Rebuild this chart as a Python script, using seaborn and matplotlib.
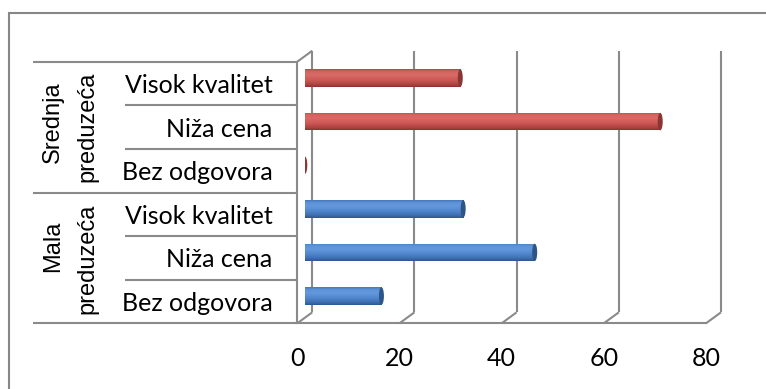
import numpy as np
import pandas as pd
import matplotlib
matplotlib.use("Agg")
import matplotlib.pyplot as plt
import seaborn as sns
from matplotlib.patches import Ellipse, Rectangle
from matplotlib.colors import to_rgb

# ---- data -------------------------------------------------------------
groups = ["Srednja preduzeća", "Mala preduzeća"]
answers = ["Visok kvalitet", "Niža cena", "Bez odgovora"]
srednja_values = [30.43, 69.57, 0.0]
mala_values = [31.0, 45.0, 15.0]
x_ticks = [0, 20, 40, 60, 80]

df = pd.DataFrame({
    "row": [f"{g}|{a}" for g in groups for a in answers],
    "answer": answers * 2,
    "group": np.repeat(groups, len(answers)),
    "value": srednja_values + mala_values,
})

# ---- style ------------------------------------------------------------
sns.set_style("white")
plt.rcParams["font.family"] = ["Lato", "DejaVu Sans"]
plt.rcParams["text.color"] = "black"
plt.rcParams["xtick.color"] = "black"
plt.rcParams["ytick.color"] = "black"
GRID = "#8a8a8a"
palette = {groups[0]: "#C0504D", groups[1]: "#4F81BD"}
shade = {
    groups[0]: ["#B04A47", "#D4625E", "#D86C68", "#CD5754", "#AE4441", "#8C3331"],
    groups[1]: ["#4677BA", "#5B90D5", "#6499DD", "#4F86CC", "#3E6DAE", "#2D5790"],
}
cap_color = {groups[0]: "#8A3634", groups[1]: "#2D5587"}
stops = [0.0, 0.12, 0.32, 0.62, 0.86, 1.0]

W, H = 766, 389
fig = plt.figure(figsize=(W / 100, H / 100), dpi=100)


def rect(left, top, right, bottom):
    return [left / W, 1 - bottom / H, (right - left) / W, (bottom - top) / H]


# front plane of the 3-D box and the bar plane half-way into the depth
X0, X1, YT, YB = 297.3, 706.0, 61.7, 323.3
DX, DY = 15.0, 11.0
ax = fig.add_axes(rect(X0, YT, X1, YB))
axb = fig.add_axes(rect(X0 + DX / 2, YT - DY / 2, X1 + DX / 2, YB - DY / 2))
for a in (ax, axb):
    a.set_facecolor("none")

ppu_x = (X1 - X0) / (x_ticks[-1] - x_ticks[0])
ppu_y = (YB - YT) / len(df)
ddx, ddy = DX / ppu_x, DY / ppu_y

# ---- bars -------------------------------------------------------------
sns.barplot(data=df, x="value", y="row", hue="group", palette=palette,
            dodge=False, width=0.4, orient="h", legend=False, ax=axb)
axb.set_xlim(x_ticks[0], x_ticks[-1])
axb.set_ylim(len(df) - 0.5, -0.5)
axb.axis("off")


def gradient(group):
    t = np.linspace(0, 1, 64)
    cols = np.array([to_rgb(c) for c in shade[group]])
    return np.stack([np.interp(t, stops, cols[:, k]) for k in range(3)], axis=-1)[:, None, :]


cap_w = 5.0 / ppu_x
for patch in list(axb.patches):
    x, y = patch.get_x(), patch.get_y()
    w, h = patch.get_width(), patch.get_height()
    yc = y + h / 2
    rgb = patch.get_facecolor()[:3]
    group = min(groups, key=lambda g: np.sum((np.array(to_rgb(palette[g])) - rgb) ** 2))
    patch.set_visible(False)
    img = gradient(group)
    if w > 0:
        # rounded start of the cylinder
        start = Ellipse((x, yc), cap_w, h, transform=axb.transData)
        im = axb.imshow(img, extent=(x - cap_w, x + cap_w, y + h, y),
                        aspect="auto", origin="upper", zorder=2)
        im.set_clip_path(start)
        body = Rectangle((x, y), w, h, transform=axb.transData)
        im = axb.imshow(img, extent=(x, x + w, y + h, y),
                        aspect="auto", origin="upper", zorder=2)
        im.set_clip_path(body)
    axb.add_patch(Ellipse((x + w, yc), cap_w, h, facecolor=cap_color[group],
                          edgecolor="none", zorder=3))
axb.set_xlim(x_ticks[0], x_ticks[-1])
axb.set_ylim(len(df) - 0.5, -0.5)

# ---- axes, box edges and grid ------------------------------------------
ax.set_xlim(x_ticks[0], x_ticks[-1])
ax.set_ylim(len(df) - 0.5, -0.5)
for s in ("top", "right"):
    ax.spines[s].set_visible(False)
for s in ("left", "bottom"):
    ax.spines[s].set_color(GRID)
    ax.spines[s].set_linewidth(1.5)
ax.set_xticks(x_ticks, labels=[str(t) for t in x_ticks])
ax.set_yticks(range(len(df)), labels=df["answer"].tolist())
ax.tick_params(axis="x", length=6, width=1.5, color=GRID, pad=11, labelsize=18)
ax.tick_params(axis="y", length=0, pad=17.7, labelsize=18)
ax.grid(False)

line_kw = dict(color=GRID, lw=1.5, clip_on=False, solid_capstyle="butt")
bottom, top = len(df) - 0.5, -0.5
for t in x_ticks:
    ax.plot([t, t + ddx], [bottom, bottom - ddy], **line_kw)
    ax.plot([t + ddx, t + ddx], [bottom - ddy, top - ddy], **line_kw)
ax.plot([0, ddx], [top, top - ddy], **line_kw)

# category separators to the left of the axis
inner_left = (125 - X0) / ppu_x
outer_left = (33 - X0) / ppu_x
n = len(answers)
for k in range(len(df) + 1):
    yk = k - 0.5
    left = outer_left if k % n == 0 else inner_left
    ax.plot([left, 0], [yk, yk], **line_kw)

# group labels, written upwards on two lines each
line_x = [53, 87]
line_shift = {groups[0]: [5, 0], groups[1]: [12, -1]}
for i, g in enumerate(groups):
    centre = YT + (i * n + n / 2) * ppu_y
    for word, lx, sh in zip(g.split(" "), line_x, line_shift[g]):
        fig.text(lx / W, 1 - (centre - sh) / H, word, rotation=90,
                 ha="center", va="center", fontsize=17,
                 fontfamily="Liberation Sans")

# chart frame
fig.add_artist(Rectangle((9.3 / W, -0.1), 1.2, 1.1 - 13.3 / H, transform=fig.transFigure,
                         fill=False, edgecolor="#878787", lw=1.5))

fig.savefig("out.png", dpi=100)
